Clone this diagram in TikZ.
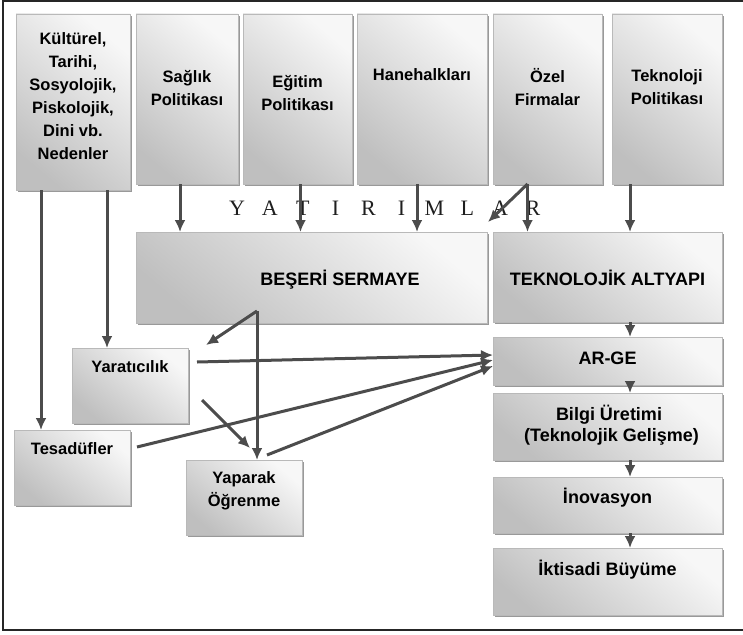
\documentclass[tikz,border=0pt]{standalone}
\usepackage{fontspec}
\setmainfont{Liberation Sans}
\newfontfamily\harfyazi{Liberation Serif}
\usetikzlibrary{arrows.meta,shadows}
\tikzstyle{kutu}=[rectangle, inner sep=0pt, outer sep=0pt, draw=gray!55, top color=gray!6, bottom color=gray!50, shading angle=-40, drop shadow={shadow xshift=2pt, shadow yshift=-2pt, fill=gray!80, opacity=1}]
\tikzstyle{yazi}=[align=center, inner sep=0pt, font=\bfseries\fontsize{16.5}{23}\selectfont]
\tikzstyle{buyuk}=[align=center, inner sep=0pt, font=\bfseries\fontsize{18}{21}\selectfont]
\tikzstyle{harf}=[inner sep=0pt, text=black!88, font=\harfyazi\fontsize{22}{22}\selectfont]
\tikzstyle{ok}=[draw=black!70, line width=3pt, -{Latex[length=12pt,width=11pt]}]
\tikzstyle{cerceve}=[draw=black!85, line width=1.4pt]
\newcommand{\hb}[1]{\makebox[32.9pt]{#1}}

\begin{document}
\begin{tikzpicture}[x=1pt, y=-1pt]
				\useasboundingbox (0,0) rectangle (743,634);
				\draw[cerceve] (743,1) -- (3,1) -- (3,630) -- (743,630);
				
				%The upper row
				\draw (73,102) node[kutu, minimum width=114pt, minimum height=176pt] (kultur) {};
				\draw (187,99) node[kutu, minimum width=102pt, minimum height=170pt] (saglik) {};
				\draw (297.5,99) node[kutu, minimum width=109pt, minimum height=170pt] (egitim) {};
				\draw (422,99) node[kutu, minimum width=130pt, minimum height=170pt] (hane) {};
				\draw (547.5,99) node[kutu, minimum width=109pt, minimum height=170pt] (ozel) {};
				\draw (667,99) node[kutu, minimum width=110pt, minimum height=170pt] (tekpol) {};
				
				\draw (73,96) node[yazi] (kulturY) {Kültürel,\\Tarihi,\\Sosyolojik,\\Piskolojik,\\Dini vb.\\Nedenler};
				\draw (187,88) node[yazi] (saglikY) {Sağlık\\Politikası};
				\draw (297.5,93) node[yazi] (egitimY) {Eğitim\\Politikası};
				\draw (422,75) node[yazi] (haneY) {Hanehalkları};
				\draw (547.5,87) node[yazi] (ozelY) {Özel\\Firmalar};
				\draw (667,87) node[yazi] (tekpolY) {Teknoloji\\Politikası};
				
				\draw (385,208) node[harf] (yatirimlar) {\hb{Y}\hb{A}\hb{T}\hb{I}\hb{R}\hb{I}\hb{M}\hb{L}\hb{A}\hb{R}};
				
				%The capital boxes
				\draw (311.5,277.5) node[kutu, minimum width=351pt, minimum height=91pt] (beseri) {};
				\draw (607.5,277) node[kutu, minimum width=229pt, minimum height=90pt] (altyapi) {};
				\draw (340,280) node[buyuk] (beseriY) {BEŞERİ SERMAYE};
				\draw (607.5,278) node[buyuk] (altyapiY) {TEKNOLOJİK ALTYAPI};
				
				%The right column
				\draw (607.5,361) node[kutu, minimum width=229pt, minimum height=48pt] (arge) {};
				\draw (607.5,426.5) node[kutu, minimum width=229pt, minimum height=67pt] (bilgi) {};
				\draw (607.5,505) node[kutu, minimum width=229pt, minimum height=56pt] (inovasyon) {};
				\draw (607.5,581.5) node[kutu, minimum width=229pt, minimum height=67pt] (iktisadi) {};
				\draw (607.5,358) node[buyuk] (argeY) {AR-GE};
				\draw (609,425) node[buyuk] (bilgiY) {Bilgi Üretimi\\\ (Teknolojik Gelişme)};
				\draw (607.5,498) node[buyuk] (inovasyonY) {İnovasyon};
				\draw (607.5,570) node[buyuk] (iktisadiY) {İktisadi Büyüme};
				
				%The left boxes
				\draw (130,385.5) node[kutu, minimum width=116pt, minimum height=75pt] (yaratici) {};
				\draw (72,467.5) node[kutu, minimum width=116pt, minimum height=75pt] (tesaduf) {};
				\draw (244,497.5) node[kutu, minimum width=116pt, minimum height=75pt] (yaparak) {};
				\draw (130,367) node[yazi] (yaraticiY) {Yaratıcılık};
				\draw (72,449) node[yazi] (tesadufY) {Tesadüfler};
				\draw (244,491) node[yazi] (yaparakY) {Yaparak\\Öğrenme};
				
				%Investments
				\draw[ok] ([xshift=-7pt]saglik.south) -- ([xshift=-7pt]saglik.south |- beseri.north);
				\draw[ok] ([xshift=3pt]egitim.south) -- ([xshift=3pt]egitim.south |- beseri.north);
				\draw[ok] ([xshift=-5pt]hane.south) -- ([xshift=-5pt]hane.south |- beseri.north);
				\draw[ok] ([xshift=-20pt]ozel.south) -- ([xshift=-20pt]ozel.south |- altyapi.north);
				\draw[ok] ([xshift=-20pt]ozel.south) -- ([xshift=1pt,yshift=10pt]beseri.north east);
				\draw[ok] ([xshift=-37pt]tekpol.south) -- ([xshift=-37pt]tekpol.south |- altyapi.north);
				
				%The causes
				\draw[ok] ([xshift=-32pt]kultur.south) -- ([xshift=-31pt]tesaduf.north);
				\draw[ok] ([xshift=34pt]kultur.south) -- ([xshift=-23pt]yaratici.north);
				
				%The chain
				\draw[ok] ([xshift=22.5pt]altyapi.south) -- ([xshift=22.5pt]arge.north);
				\draw[ok] ([xshift=22.5pt]arge.south) -- ([xshift=22.5pt]bilgi.north);
				\draw[ok] ([xshift=22.5pt]bilgi.south) -- ([xshift=22.5pt]inovasyon.north);
				\draw[ok] ([xshift=22.5pt]inovasyon.south) -- ([xshift=22.5pt]iktisadi.north);
				
				%Human capital
				\coordinate (catal) at ([xshift=-54.5pt,yshift=12pt]beseri.south);
				\draw[ok] (catal) -- ([xshift=18pt,yshift=3pt]yaratici.north east);
				\draw[ok] (catal) -- (catal |- yaparak.north);
				
				%Towards AR-GE
				\draw[ok] ([xshift=9pt,yshift=23.5pt]yaratici.east) -- ([yshift=6pt]arge.west);
				\draw[ok] ([xshift=14pt,yshift=-14.5pt]yaratici.east) -- ([xshift=6pt,yshift=12pt]yaparak.north);
				\draw[ok] ([xshift=7pt,yshift=20.5pt]tesaduf.east) -- ([yshift=1pt]arge.west);
				\draw[ok] ([xshift=23pt,yshift=5pt]yaparak.north) -- ([yshift=-5pt]arge.west);
			\end{tikzpicture}
\end{document}
